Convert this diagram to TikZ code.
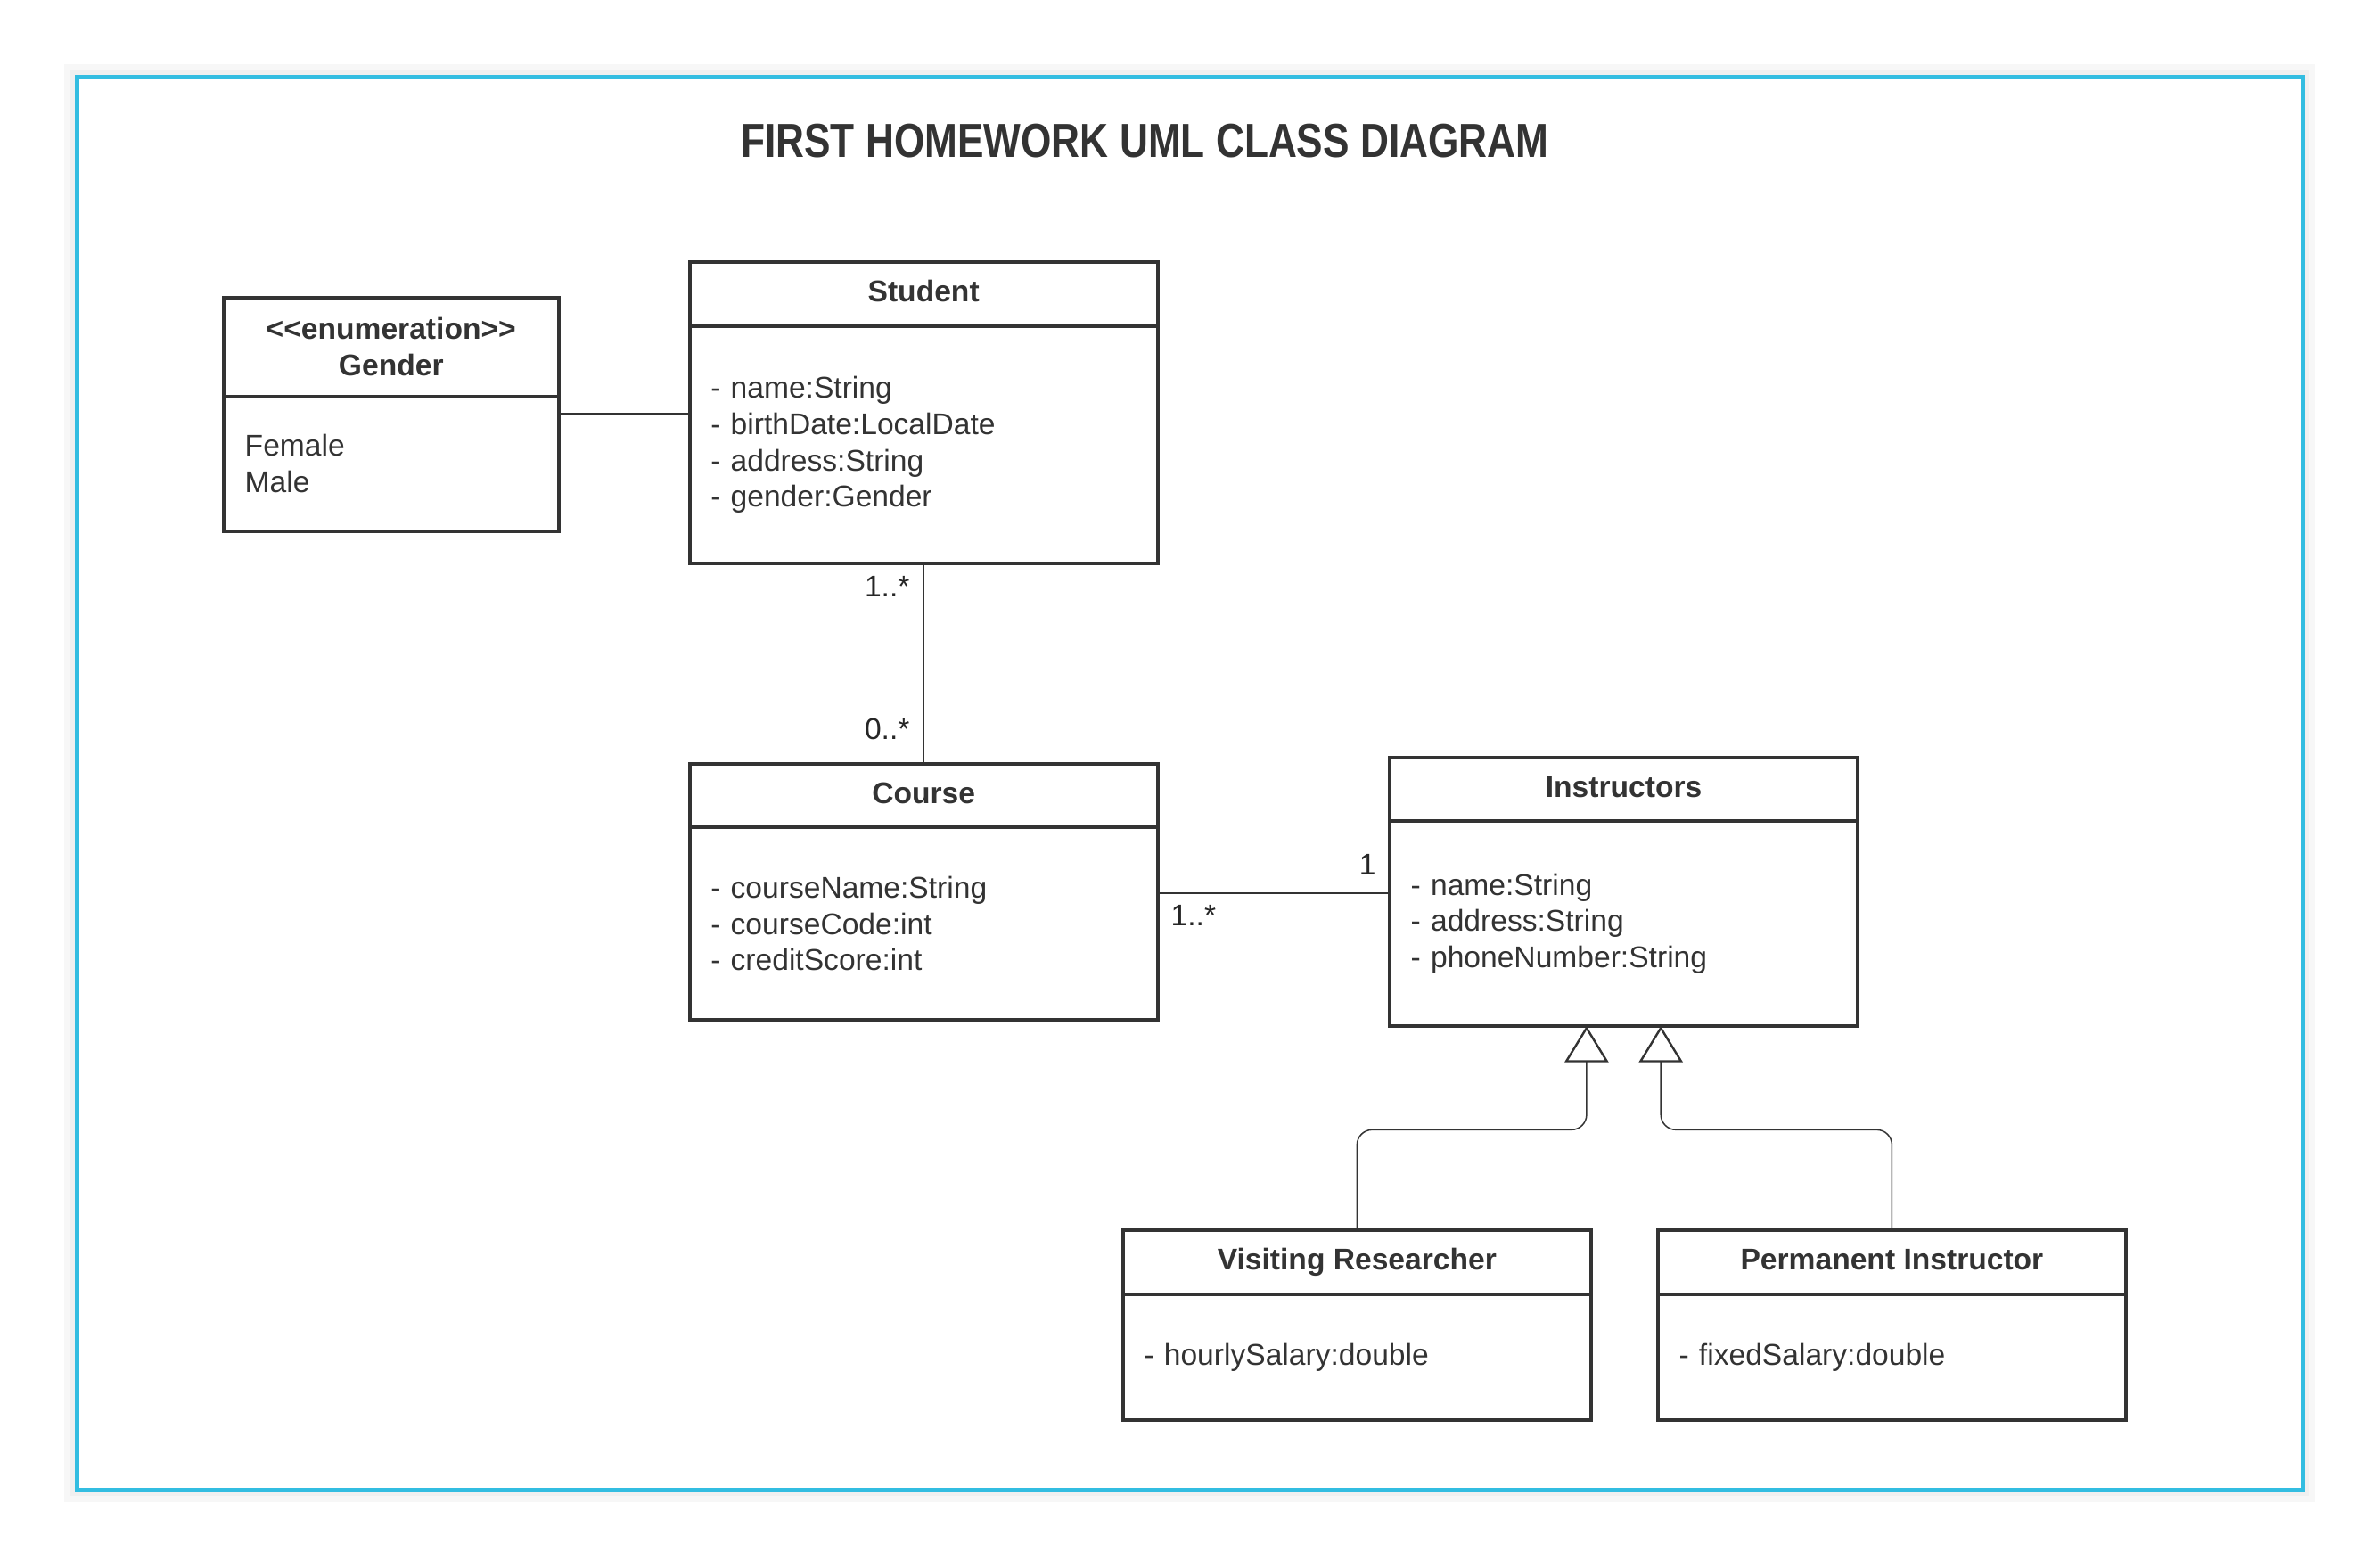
\documentclass[tikz,border=0pt]{standalone}
\usepackage{fontspec}
\setmainfont{Liberation Sans}
\usepackage{graphicx}
\usetikzlibrary{positioning,calc,arrows.meta}
\definecolor{umlgray}{HTML}{333333}
\definecolor{frameblue}{HTML}{33BDE1}
\newlength\unitpx
\setlength\unitpx{0.85pt}
\newcommand\umlfont{\fontsize{16.8pt}{20.4pt}\selectfont}
\tikzset{
  classhead/.style={draw=umlgray, line width=2pt, fill=white, text=umlgray, font=\umlfont\bfseries, align=center, inner sep=0pt, outer sep=0pt, text height=12.3pt, text depth=3.5pt, minimum width=309\unitpx, minimum height=42\unitpx, anchor=north west},
  classbody/.style={draw=umlgray, line width=2pt, fill=white, text=umlgray, font=\umlfont, align=left, inner xsep=14\unitpx, inner ysep=0pt, outer sep=0pt, text width=281\unitpx, below=0pt of #1},
  assoc/.style={draw=umlgray, line width=0.75pt},
  generalize/.style={assoc, rounded corners=8.5pt, -{Triangle[open, length=20.4pt, width=24.6pt, line width=1.2pt]}},
  mult/.style={text=black!85, font=\umlfont, inner sep=0pt},
}
\begin{document}
\begin{tikzpicture}[x=0.85pt,y=0.85pt,yscale=-1,xscale=1]
    %set diagram size
    \useasboundingbox (0,0) rectangle (1570.6,1034.7);

    %Frame
    \draw[black!3, line width=16\unitpx] (50.6,50.6) rectangle (1519.5,983);
    \draw[black!6, line width=8\unitpx] (50.6,50.6) rectangle (1519.5,983);
    \draw[frameblue, line width=2.5pt, fill=white] (50.6,50.6) rectangle (1519.5,983);

    %Title
    \node[text=umlgray, inner sep=0pt] (title) at (755.5,93) {\resizebox{533\unitpx}{22\unitpx}{\bfseries FIRST HOMEWORK UML CLASS DIAGRAM}};

    %Class: Gender
    \node[classhead, text height=, text depth=, minimum width=221\unitpx, minimum height=65\unitpx] (gender) at (147.6,196.5) {<\kern0pt<enumeration>\kern0pt>\\Gender};
    \node[classbody=gender, text width=193\unitpx, minimum height=89\unitpx] (genderattr) {Female\\Male};

    %Class: Student
    \node[classhead] (student) at (455,173) {Student};
    \node[classbody=student, minimum height=157\unitpx] (studentattr) {- name:String\\- birthDate:LocalDate\\- address:String\\- gender:Gender};

    %Class: Course
    \node[classhead] (course) at (455,504) {Course};
    \node[classbody=course, minimum height=127\unitpx] (courseattr) {- courseName:String\\- courseCode:int\\- creditScore:int};

    %Class: Instructors
    \node[classhead] (instructors) at (917,500) {Instructors};
    \node[classbody=instructors, minimum height=135\unitpx] (instructorsattr) {- name:String\\- address:String\\- phoneNumber:String};

    %Class: Visiting Researcher
    \node[classhead] (visiting) at (741,812) {Visiting Researcher};
    \node[classbody=visiting, minimum height=83\unitpx] (visitingattr) {- hourlySalary:double};

    %Class: Permanent Instructor
    \node[classhead] (permanent) at (1094,812) {Permanent Instructor};
    \node[classbody=permanent, minimum height=83\unitpx] (permanentattr) {- fixedSalary:double};

    %Straight Lines
    \coordinate (genderrow) at (0,273);
    \draw[assoc] (genderattr.east |- genderrow) -- (studentattr.west |- genderrow);
    %Straight Lines
    \draw[assoc] (studentattr.south) -- (course.north);
    \node[mult, anchor=north east] (studentmult) at ($(studentattr.south)+(-9,8)$) {1..*};
    \node[mult, anchor=south east] (coursemult) at ($(course.north)+(-9,-15.4)$) {0..*};
    %Straight Lines
    \coordinate (assocrow) at (0,589.4);
    \coordinate (coursejoin) at (courseattr.east |- assocrow);
    \coordinate (instrjoin) at (instructorsattr.west |- assocrow);
    \draw[assoc] (coursejoin) -- (instrjoin);
    \node[mult, anchor=south east] (instrmult) at ($(instrjoin)+(-8.8,-12)$) {1};
    \node[mult, anchor=north west] (coursejoinmult) at ($(coursejoin)+(8.5,7.6)$) {1..*};

    %Generalization
    \coordinate (genrow) at (0,745.5);
    \coordinate (apexA) at ($(instructorsattr.south)+(-24.5,0)$);
    \coordinate (apexB) at ($(instructorsattr.south)+(24.5,0)$);
    \draw[generalize] (visiting.north) |- (genrow -| apexA) -- (apexA);
    \draw[generalize] (permanent.north) |- (genrow -| apexB) -- (apexB);
\end{tikzpicture}
\end{document}
